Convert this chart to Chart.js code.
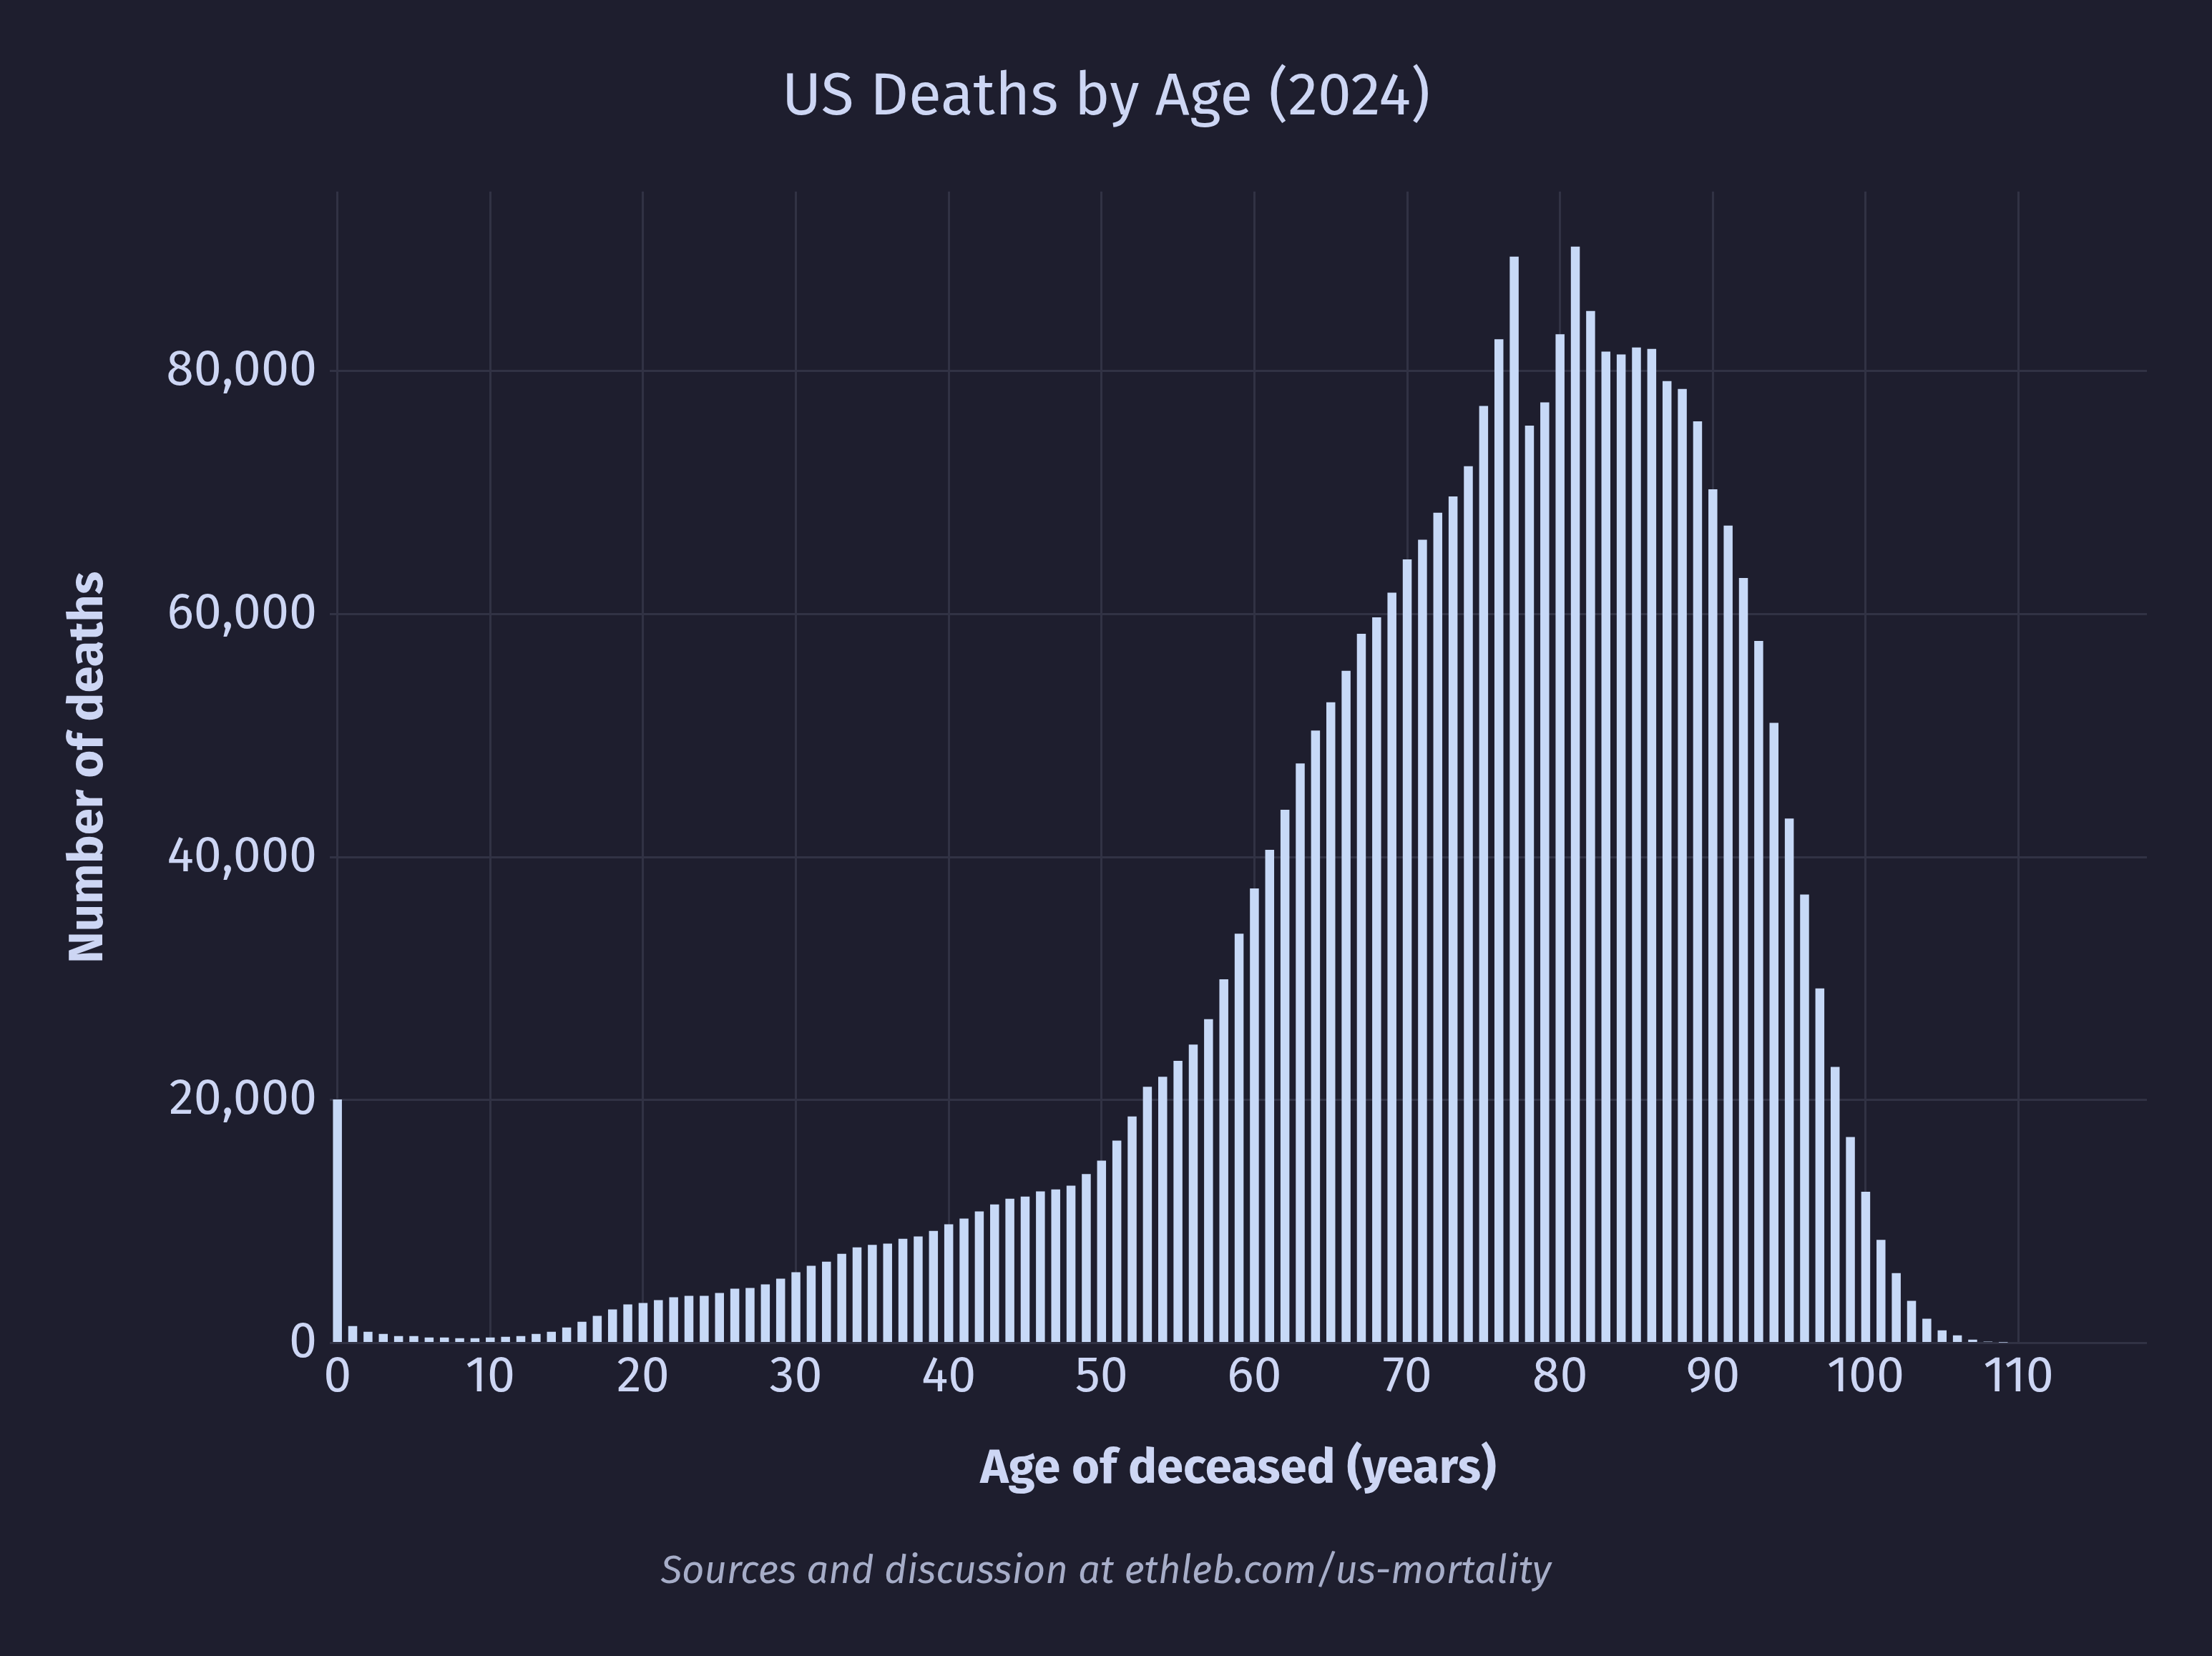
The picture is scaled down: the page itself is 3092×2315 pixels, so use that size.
<!DOCTYPE html>
<html>
<head>
<meta charset="utf-8">
<title>US Deaths by Age (2024)</title>
<script src="https://cdn.jsdelivr.net/npm/chart.js@4"></script>
<style>
  html, body {
    margin: 0;
    padding: 0;
    background: #1e1e2e;
  }
  #wrap {
    width: 3092px;
    height: 2315px;
  }
</style>
</head>
<body>
<div id="wrap"><canvas id="deathsChart"></canvas></div>
<script>
const ages = [
  0, 1, 2, 3, 4, 5, 6, 7, 8, 9,
  10, 11, 12, 13, 14, 15, 16, 17, 18, 19,
  20, 21, 22, 23, 24, 25, 26, 27, 28, 29,
  30, 31, 32, 33, 34, 35, 36, 37, 38, 39,
  40, 41, 42, 43, 44, 45, 46, 47, 48, 49,
  50, 51, 52, 53, 54, 55, 56, 57, 58, 59,
  60, 61, 62, 63, 64, 65, 66, 67, 68, 69,
  70, 71, 72, 73, 74, 75, 76, 77, 78, 79,
  80, 81, 82, 83, 84, 85, 86, 87, 88, 89,
  90, 91, 92, 93, 94, 95, 96, 97, 98, 99,
  100, 101, 102, 103, 104, 105, 106, 107, 108, 109,
];

// deaths per single year of age
const deaths = [
  20050, 1400, 930, 750, 575, 575, 455, 455, 400, 400,
  455, 515, 575, 750, 930, 1285, 1755, 2240, 2770, 3180,
  3300, 3535, 3770, 3890, 3890, 4125, 4480, 4540, 4830, 5300,
  5840, 6360, 6700, 7350, 7875, 8090, 8180, 8580, 8770, 9230,
  9780, 10250, 10830, 11415, 11880, 12060, 12490, 12650, 12960, 13910,
  15020, 16660, 18650, 21090, 21920, 23220, 24570, 26660, 29930, 33690,
  37410, 40590, 43890, 47700, 50400, 52730, 55320, 58360, 59720, 61750,
  64490, 66100, 68320, 69670, 72150, 77110, 82600, 89390, 75490, 77410,
  83010, 90220, 84920, 81580, 81350, 81920, 81810, 79150, 78510, 75850,
  70250, 67270, 62950, 57780, 51030, 43170, 36910, 29180, 22730, 16950,
  12450, 8490, 5760, 3480, 2010, 1055, 635, 280, 120, 50,
];

const xTicks = [0, 10, 20, 30, 40, 50, 60, 70, 80, 90, 100, 110];
const yTicks = [0, 20000, 40000, 60000, 80000];
const xRange = [-0.5, 118.4];
const yRange = [0, 94750];

const fontFamily = "'Fira Sans', 'Noto Sans', sans-serif";
const textColor = "#cdd6f4";
const gridColor = "#313244";

document.addEventListener("DOMContentLoaded", function () {
  createDeathsChart();
});

function fixedTicks(values) {
  return function (scale) {
    scale.ticks = values.map((v) => ({ value: v }));
  };
}

function createDeathsChart() {
  const ctx = document.getElementById("deathsChart").getContext("2d");
  const points = ages.map((age, i) => ({ x: age, y: deaths[i] }));

  new Chart(ctx, {
    type: "bar",
    data: {
      datasets: [
        {
          label: "Deaths",
          data: points,
          backgroundColor: "#c7d9f7",
          borderWidth: 0,
          barPercentage: 0.585,
          categoryPercentage: 1,
        },
      ],
    },
    options: {
      responsive: true,
      maintainAspectRatio: false,
      devicePixelRatio: 1,
      animation: false,
      layout: {
        padding: 0,
      },
      plugins: {
        legend: { display: false },
        tooltip: { enabled: false },
        title: {
          display: true,
          text: "US Deaths by Age (2024)",
          color: textColor,
          font: { family: fontFamily, size: 84, weight: "normal" },
          padding: { top: 86, bottom: 81 },
        },
        subtitle: {
          display: true,
          position: "bottom",
          text: "Sources and discussion at ethleb.com/us-mortality",
          color: "#a6adc8",
          font: { family: fontFamily, size: 54.5, style: "italic" },
          padding: { top: 70, bottom: 85 },
        },
      },
      scales: {
        x: {
          type: "linear",
          min: xRange[0],
          max: xRange[1],
          offset: false,
          afterBuildTicks: fixedTicks(xTicks),
          afterFit: (scale) => {
            scale.height = 217;
          },
          border: { display: false },
          grid: { color: gridColor, lineWidth: 3, drawTicks: false, offset: false },
          ticks: {
            autoSkip: false,
            maxRotation: 0,
            padding: 6,
            color: textColor,
            font: { family: fontFamily, size: 70 },
          },
          title: {
            display: true,
            text: "Age of deceased (years)",
            color: textColor,
            font: { family: fontFamily, size: 67, weight: "bold" },
            padding: { top: 0, bottom: 0 },
          },
        },
        y: {
          min: yRange[0],
          max: yRange[1],
          afterBuildTicks: fixedTicks(yTicks),
          afterFit: (scale) => {
            scale.width = 461;
          },
          border: { display: false },
          grid: { color: gridColor, lineWidth: 3, drawTicks: false },
          ticks: {
            padding: 18,
            color: textColor,
            font: { family: fontFamily, size: 70 },
            callback: (value) => value.toLocaleString("en-US"),
          },
          title: {
            display: true,
            text: "Number of deaths",
            color: textColor,
            font: { family: fontFamily, size: 67, weight: "bold" },
            padding: { top: 84, bottom: 0 },
          },
        },
        // empty right-hand axis, only reserves the margin right of the plot
        yRight: {
          position: "right",
          display: true,
          afterFit: (scale) => {
            scale.width = 91;
          },
          border: { display: false },
          grid: { display: false },
          ticks: { display: false },
        },
      },
    },
  });
}
</script>
</body>
</html>
